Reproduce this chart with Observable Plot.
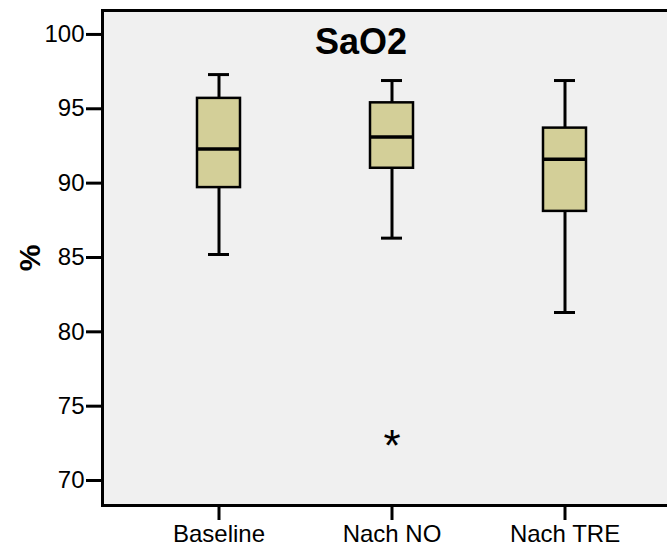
<!DOCTYPE html>
<html>
<head>
<meta charset="utf-8">
<script src="https://cdn.jsdelivr.net/npm/d3@7"></script>
<script src="https://cdn.jsdelivr.net/npm/@observablehq/plot@0.6"></script>
<style>
  html, body { margin: 0; padding: 0; background: #fff; overflow: hidden; }
  #chart { width: 667px; height: 548px; overflow: hidden; }
  #chart svg { display: block; overflow: hidden; }
</style>
</head>
<body>
<div id="chart"></div>
<script>
const categories = ["Baseline", "Nach NO", "Nach TRE"];
const whiskerLow  = [85.2, 86.3, 81.3];
const q1          = [89.7, 91.0, 88.1];
const median      = [92.3, 93.1, 91.6];
const q3          = [95.7, 95.4, 93.7];
const whiskerHigh = [97.3, 96.9, 96.9];
const outlierCategory = ["Nach NO"];
const outlierValue    = [72.7];
const yTicks = [70, 75, 80, 85, 90, 95, 100];
const yDomain = [68.32, 101.61];
const title = "SaO2";
const yLabel = "%";

const stats = categories.map((c, i) => ({
  cat: c, lo: whiskerLow[i], q1: q1[i], med: median[i], q3: q3[i], hi: whiskerHigh[i]
}));
const outliers = outlierCategory.map((c, i) => ({cat: c, v: outlierValue[i]}));

const font = "'Liberation Sans', Arial, Helvetica, sans-serif";

const chart = Plot.plot({
  width: 667,
  height: 548,
  marginLeft: 102,
  marginRight: 0,
  marginTop: 10,
  marginBottom: 43,
  style: { fontFamily: font, fontSize: "24px", background: "#fff", color: "#000" },
  x: { domain: categories, range: [102, 680], paddingInner: 0, paddingOuter: 0.17, label: null },
  y: { domain: yDomain, label: null },
  marks: [
    Plot.frame({ fill: "#f0f0f0" }),
    Plot.ruleX(stats, { x: "cat", y1: "lo", y2: "hi", stroke: "#000", strokeWidth: 3 }),
    Plot.tickY(stats, { x: "cat", y: "lo", stroke: "#000", strokeWidth: 3, insetLeft: 76, insetRight: 76 }),
    Plot.tickY(stats, { x: "cat", y: "hi", stroke: "#000", strokeWidth: 3, insetLeft: 76, insetRight: 76 }),
    Plot.barY(stats, { x: "cat", y1: "q1", y2: "q3", fill: "#d3cf98", stroke: "#000", strokeWidth: 2.5, insetLeft: 65, insetRight: 65 }),
    Plot.tickY(stats, { x: "cat", y: "med", stroke: "#000", strokeWidth: 3.5, insetLeft: 65, insetRight: 65 }),
    Plot.text(outliers, { x: "cat", y: "v", text: () => "*", fontSize: 44, dy: 7, fill: "#000" }),
    Plot.frame({ stroke: "#000", strokeWidth: 3, insetRight: -20 }),
    Plot.axisY({ ticks: yTicks, tickSize: 16, tickPadding: 2, strokeWidth: 3, fontSize: 24, label: null }),
    Plot.axisX({ tickSize: 15, tickPadding: 4, strokeWidth: 3, fontSize: 24, label: null }),
    Plot.text([title], { frameAnchor: "top", dx: -24, dy: 18, fontSize: 36, fontWeight: "bold", fill: "#000" }),
    Plot.text([yLabel], { frameAnchor: "left", dx: -72, rotate: -90, textAnchor: "middle", fontSize: 30, fontWeight: "bold", fill: "#000" })
  ]
});
document.getElementById("chart").appendChild(chart);
</script>
</body>
</html>
